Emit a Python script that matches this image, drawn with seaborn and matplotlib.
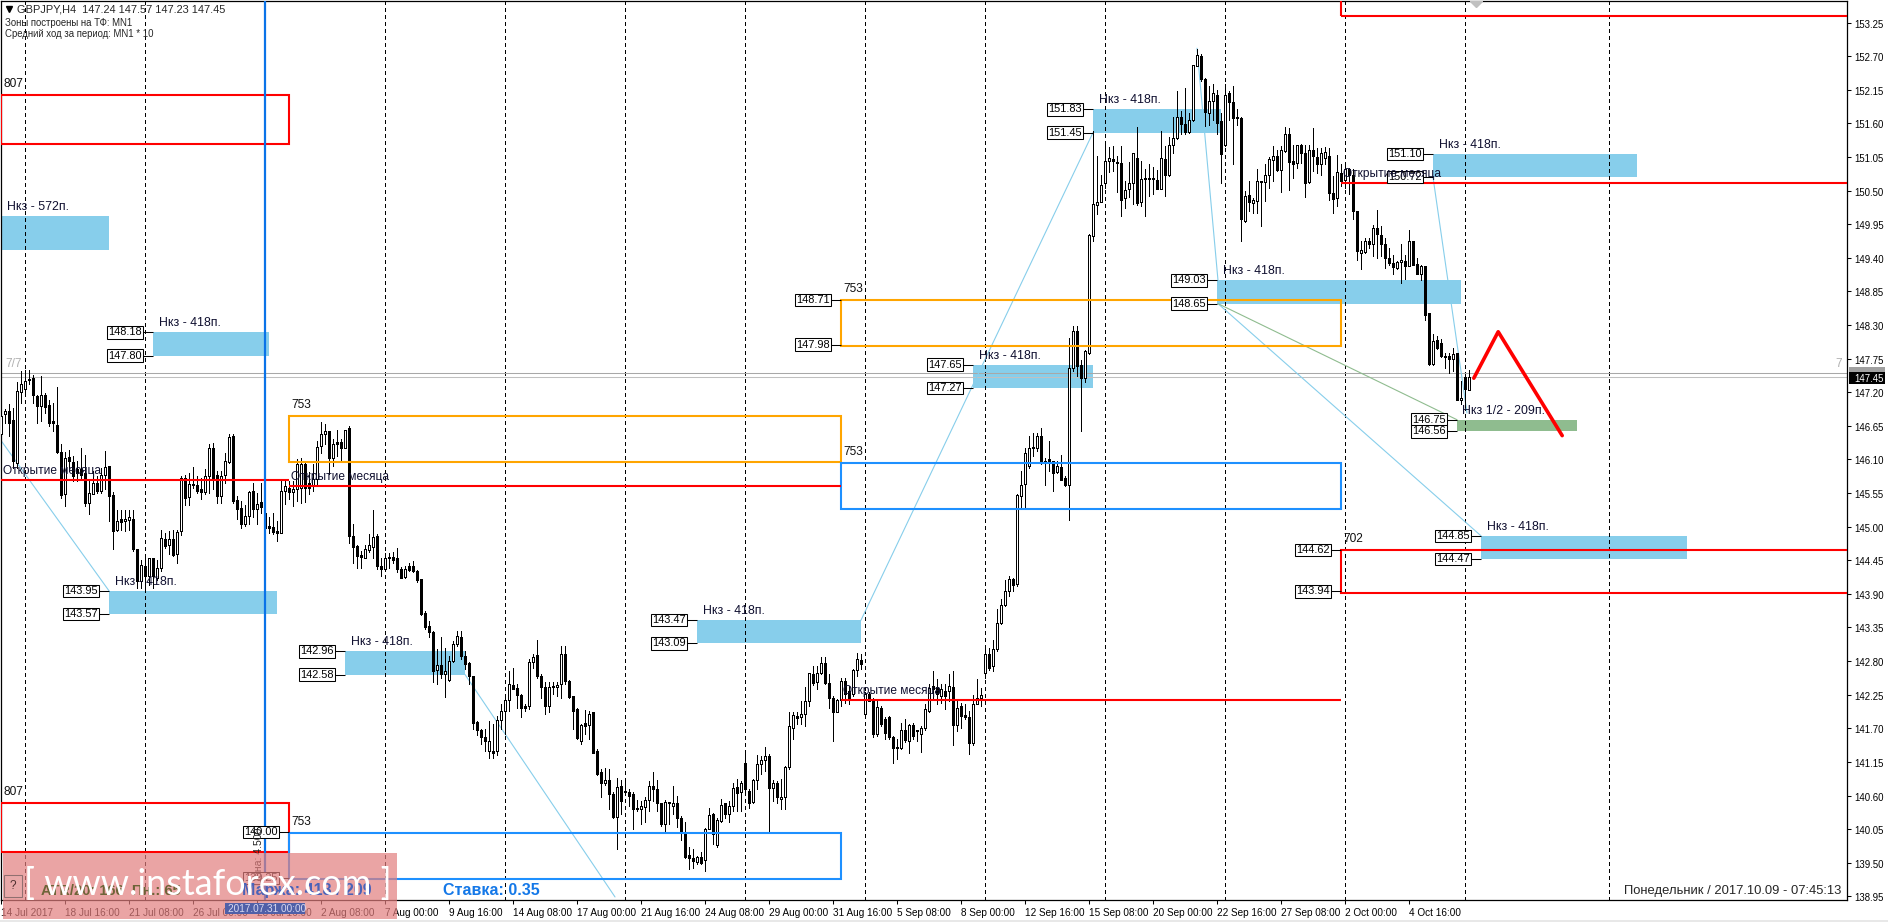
import matplotlib
matplotlib.use("Agg")
import matplotlib.pyplot as plt
import numpy as np
import pandas as pd
import seaborn as sns
from matplotlib.patches import Rectangle
from matplotlib.transforms import ScaledTranslation

# 4h candles, one value per bar
bar_open = [
    146.51, 146.84, 146.89, 146.74, 146.05, 147.21, 147.25, 147.41, 147.43, 147.14,
    146.97, 147.16, 146.99, 146.73, 146.67, 146.23, 145.54, 146.14, 146.06, 145.94,
    145.94, 145.88, 145.38, 145.53, 145.72, 145.58, 145.85, 145.99, 145.52, 144.94,
    145.12, 145.09, 145.11, 145.13, 144.63, 144.11, 144.35, 144.19, 144.48, 144.16,
    144.32, 144.79, 144.70, 144.79, 144.55, 144.93, 145.79, 145.48, 145.68, 145.68,
    145.61, 145.56, 145.83, 146.28, 145.84, 145.51, 145.84, 146.06, 146.48, 145.43,
    145.31, 145.04, 145.17, 145.58, 145.29, 145.40, 145.23, 145.01, 145.00, 144.93,
    144.90, 145.58, 145.64, 145.56, 145.61, 145.64, 146.03, 145.72, 145.68, 145.78,
    146.32, 146.52, 146.57, 146.12, 146.39, 146.39, 146.29, 146.62, 144.85, 144.68,
    144.53, 144.49, 144.62, 144.67, 144.85, 144.36, 144.31, 144.49, 144.50, 144.49,
    144.30, 144.17, 144.36, 144.35, 144.28, 144.14, 143.58, 143.38,
    143.28, 142.66, 142.74, 142.59, 142.49, 142.80, 143.08, 143.20, 142.89, 142.77,
    142.55, 141.81, 141.67, 141.55, 141.33, 141.33, 141.33, 141.83, 141.98, 142.16,
    142.41, 142.36, 142.25, 142.07, 142.07, 142.78, 142.90, 142.56, 142.38, 142.07,
    142.38, 142.38, 142.42, 142.91, 142.48, 142.23, 142.02, 141.50, 141.79, 141.75,
    141.96, 141.33, 140.98, 140.80, 140.86, 140.63, 140.25, 140.76, 140.66, 140.66,
    140.62, 140.40, 140.38, 140.42, 140.53, 140.76, 140.70, 140.47, 140.13, 140.50,
    140.43, 140.48, 140.24, 140.00, 139.62, 139.57, 139.52, 139.60, 139.55, 140.06,
    140.29, 139.79, 140.18, 140.47, 140.30, 140.43, 140.74, 140.65, 141.13, 140.68,
    140.50, 140.85, 141.11, 141.18, 141.25, 140.73, 140.81, 140.54, 140.57, 141.06,
    141.70, 141.90, 141.88, 141.94, 142.15, 142.59, 142.45, 142.60, 142.77, 142.44,
    142.20, 141.97, 142.17, 142.48, 142.31, 142.26, 142.65, 142.81, 141.93, 142.26,
    142.18, 141.60, 142.04, 141.85, 141.88, 141.56, 141.37, 141.38, 141.68, 141.50,
    141.75, 141.66, 141.60, 141.70, 141.99, 142.39, 142.37, 142.23, 142.31, 142.31,
    142.37, 141.75, 142.06, 141.91, 141.89, 141.46, 142.10, 142.20, 142.61, 142.91,
    142.72, 143.00, 143.42, 143.71, 143.95, 144.14, 144.06, 145.51, 145.70, 145.99,
    146.29, 146.28, 146.48, 146.05, 146.10, 146.07, 145.90, 145.98, 145.80, 145.68,
    147.59, 148.20, 147.64, 147.43, 147.85, 149.76, 150.26, 150.32, 150.62, 150.98,
    151.02, 150.97, 150.95, 150.38, 150.52, 150.62, 151.03, 150.31, 150.70, 150.70,
    150.70, 150.68, 150.53, 151.02, 150.75, 151.24, 151.36, 151.70, 151.59, 151.46,
    151.65, 152.54, 152.70, 152.32, 151.77, 151.96, 152.07, 151.64, 151.25, 152.09,
    151.95, 151.70, 151.68, 150.01, 150.43, 150.30, 150.33, 150.64, 150.64, 150.75,
    151.00, 151.07, 150.83, 151.15, 151.43, 150.98, 150.95, 151.25, 151.12, 150.64,
    151.17, 151.05, 150.94, 151.04, 151.06, 150.46, 150.38, 150.79, 150.68, 150.85,
    150.75, 150.16, 149.48, 149.50, 149.67, 149.63, 149.89, 149.78, 149.62, 149.40,
    149.32, 149.24, 149.33, 149.35, 149.27, 149.68, 149.30, 149.14, 149.26, 148.49,
    147.66, 148.05, 148.01, 147.79, 147.79, 147.74, 147.84, 147.08, 147.45, 147.24,
]
bar_high = [
    146.92, 146.92, 147.00, 146.95, 147.36, 147.54, 147.56, 147.56, 147.48, 147.16,
    147.46, 147.19, 147.07, 147.03, 147.28, 146.35, 146.23, 146.25, 146.16, 146.07,
    146.28, 146.18, 145.75, 145.91, 145.83, 145.96, 146.24, 145.99, 145.56, 145.28,
    145.27, 145.28, 145.28, 145.28, 144.64, 144.46, 144.49, 144.49, 144.49, 144.46,
    144.95, 144.90, 144.93, 144.95, 144.95, 145.83, 145.85, 145.88, 145.97, 145.83,
    145.80, 145.94, 146.36, 146.37, 145.91, 145.91, 146.21, 146.51, 146.51, 145.50,
    145.42, 145.36, 145.58, 145.72, 145.55, 145.72, 145.37, 145.15, 145.23, 145.09,
    145.75, 145.78, 145.75, 145.75, 146.10, 146.13, 146.05, 145.89, 146.02, 146.41,
    146.71, 146.68, 146.57, 146.43, 146.59, 146.43, 146.59, 146.65, 145.04, 144.70,
    144.60, 144.70, 144.88, 145.27, 144.88, 144.49, 144.57, 144.57, 144.59, 144.65,
    144.34, 144.36, 144.41, 144.43, 144.29, 144.15, 143.62, 143.46,
    143.29, 143.00, 143.19, 143.02, 142.89, 143.13, 143.29, 143.29, 142.97, 142.78,
    142.56, 141.82, 141.69, 141.69, 141.82, 141.77, 141.90, 142.09, 142.20, 142.64,
    142.69, 142.42, 142.26, 142.09, 142.83, 142.92, 143.14, 142.59, 142.45, 142.45,
    142.45, 142.45, 143.05, 143.05, 142.49, 142.23, 142.03, 141.77, 142.00, 141.99,
    141.97, 141.36, 141.03, 141.05, 141.03, 140.65, 140.89, 140.85, 140.87, 140.70,
    140.65, 140.52, 140.51, 140.57, 140.84, 140.99, 140.85, 140.48, 140.52, 140.50,
    140.76, 140.59, 140.27, 140.16, 139.75, 139.72, 139.61, 139.67, 140.07, 140.40,
    140.32, 140.24, 140.54, 140.48, 140.51, 140.80, 140.87, 140.84, 141.28, 140.70,
    140.87, 141.27, 141.25, 141.39, 141.28, 140.85, 140.84, 140.87, 141.08, 141.96,
    141.97, 141.96, 142.15, 142.38, 142.61, 142.72, 142.72, 142.87, 142.87, 142.59,
    142.23, 142.18, 142.53, 142.53, 142.40, 142.67, 142.94, 142.91, 142.29, 142.29,
    142.20, 142.18, 142.07, 141.88, 141.90, 141.58, 141.52, 141.79, 141.85, 141.77,
    141.78, 141.68, 141.74, 142.09, 142.42, 142.64, 142.50, 142.42, 142.42, 142.59,
    142.64, 142.14, 142.12, 142.09, 141.98, 142.25, 142.50, 142.36, 143.02, 143.02,
    143.15, 143.65, 143.81, 144.13, 144.19, 144.16, 145.53, 145.91, 146.29, 146.48,
    146.53, 146.54, 146.62, 146.13, 146.41, 146.08, 146.07, 146.17, 145.83, 148.09,
    148.29, 148.29, 147.72, 147.89, 149.79, 151.48, 151.07, 150.76, 151.29, 151.21,
    151.23, 151.07, 151.23, 150.66, 150.96, 151.12, 151.54, 150.99, 150.85, 150.93,
    150.88, 150.84, 151.48, 151.23, 151.38, 151.70, 152.13, 151.80, 152.18, 151.77,
    152.56, 152.81, 152.73, 152.35, 152.21, 152.24, 152.15, 151.77, 152.24, 152.13,
    152.21, 151.83, 151.70, 150.49, 150.65, 150.38, 150.85, 150.65, 150.93, 151.05,
    151.23, 151.16, 151.23, 151.54, 151.53, 151.25, 151.25, 151.27, 151.25, 151.25,
    151.52, 151.20, 151.20, 151.21, 151.19, 150.74, 151.08, 150.93, 150.93, 150.87,
    150.85, 150.16, 149.67, 149.73, 149.73, 149.93, 150.19, 149.92, 149.73, 149.56,
    149.45, 149.34, 149.62, 149.45, 149.85, 149.68, 149.40, 149.29, 149.26, 148.49,
    148.15, 148.12, 148.07, 147.85, 147.85, 147.93, 147.85, 147.38, 147.50, 147.57,
]
bar_low = [
    146.48, 146.70, 146.48, 145.96, 145.96, 147.03, 147.16, 147.33, 147.03, 146.70,
    146.73, 146.86, 146.65, 146.56, 146.21, 145.47, 145.34, 145.91, 145.75, 145.75,
    145.80, 145.34, 145.20, 145.53, 145.55, 145.55, 145.61, 145.09, 144.63, 144.93,
    144.94, 144.93, 144.95, 144.60, 144.00, 144.00, 144.00, 144.05, 144.00, 144.13,
    144.27, 144.65, 144.55, 144.52, 144.41, 144.87, 145.36, 145.36, 145.64, 145.55,
    145.45, 145.54, 145.55, 145.61, 145.39, 145.39, 145.72, 146.05, 145.39, 145.12,
    144.97, 145.01, 145.04, 145.15, 145.04, 145.23, 144.88, 144.90, 144.88, 144.77,
    144.90, 145.37, 145.45, 145.34, 145.42, 145.39, 145.40, 145.53, 145.58, 145.69,
    146.21, 146.35, 145.86, 145.99, 146.16, 146.07, 146.29, 144.74, 144.40, 144.33,
    144.32, 144.49, 144.58, 144.49, 144.30, 144.19, 144.30, 144.33, 144.41, 144.25,
    144.16, 144.16, 144.27, 144.25, 144.10, 143.55, 143.32, 143.19,
    142.45, 142.42, 142.53, 142.22, 142.48, 142.78, 143.05, 142.83, 142.67, 142.42,
    141.69, 141.59, 141.44, 141.33, 141.21, 141.22, 141.27, 141.69, 141.60, 141.99,
    142.34, 142.04, 141.88, 141.99, 142.01, 142.69, 142.53, 142.20, 141.93, 141.96,
    142.26, 142.23, 142.20, 142.42, 142.20, 141.69, 141.52, 141.44, 141.60, 141.52,
    141.29, 140.94, 140.57, 140.78, 140.38, 140.24, 139.73, 140.29, 140.65, 140.43,
    140.06, 140.35, 140.14, 140.16, 140.35, 140.51, 140.35, 140.10, 140.02, 140.13,
    140.29, 140.08, 139.88, 139.58, 139.39, 139.42, 139.48, 139.48, 139.36, 140.05,
    139.80, 139.76, 140.16, 140.24, 140.16, 140.35, 140.35, 140.35, 140.65, 140.40,
    140.48, 140.70, 140.95, 141.00, 139.99, 140.51, 140.48, 140.38, 140.38, 141.03,
    141.52, 141.77, 141.77, 141.74, 142.07, 142.41, 142.34, 142.59, 142.42, 142.04,
    141.50, 141.96, 142.07, 142.12, 142.10, 142.23, 142.56, 142.67, 141.90, 142.15,
    141.55, 141.58, 141.74, 141.52, 141.52, 141.14, 141.19, 141.36, 141.47, 141.30,
    141.52, 141.49, 141.32, 141.68, 141.96, 142.20, 142.09, 142.12, 142.01, 142.15,
    141.43, 141.65, 141.71, 141.85, 141.28, 141.43, 142.09, 142.06, 142.53, 142.66,
    142.64, 142.96, 143.40, 143.70, 143.86, 143.94, 144.03, 145.31, 145.31, 145.96,
    146.15, 146.24, 146.02, 145.69, 145.91, 145.58, 145.88, 145.77, 145.66, 145.11,
    147.55, 147.46, 146.56, 147.37, 147.83, 149.68, 150.11, 150.31, 150.55, 150.80,
    150.82, 150.47, 150.09, 150.22, 150.39, 150.28, 150.27, 150.25, 150.08, 150.41,
    150.44, 150.53, 150.52, 150.41, 150.74, 151.12, 151.34, 151.42, 151.42, 151.45,
    151.64, 152.54, 152.29, 151.55, 151.58, 151.66, 151.42, 150.63, 151.23, 151.66,
    150.93, 151.58, 149.68, 149.99, 150.16, 150.14, 150.14, 149.92, 150.33, 150.55,
    150.65, 150.82, 150.48, 151.13, 150.51, 150.71, 150.87, 150.95, 150.40, 150.62,
    150.82, 150.79, 150.76, 150.93, 150.35, 150.14, 150.25, 150.57, 150.55, 150.44,
    150.03, 149.36, 149.22, 149.48, 149.56, 149.43, 149.40, 149.43, 149.24, 149.29,
    149.13, 149.21, 148.98, 149.05, 149.26, 149.29, 149.13, 149.04, 148.39, 147.64,
    147.65, 147.90, 147.77, 147.60, 147.52, 147.55, 147.08, 147.00, 146.96, 147.23,
]
bar_close = [
    146.81, 146.89, 146.70, 146.07, 147.22, 147.33, 147.39, 147.40, 147.15, 146.97,
    147.15, 146.96, 146.70, 146.69, 146.23, 145.52, 146.13, 146.07, 145.83, 145.88,
    145.85, 145.39, 145.55, 145.72, 145.59, 145.85, 145.97, 145.51, 144.93, 145.10,
    145.07, 145.12, 145.16, 144.63, 144.11, 144.38, 144.19, 144.48, 144.20, 144.32,
    144.81, 144.68, 144.79, 144.53, 144.92, 145.79, 145.47, 145.70, 145.70, 145.58,
    145.57, 145.83, 146.28, 145.80, 145.51, 145.83, 146.08, 146.47, 145.42, 145.29,
    145.04, 145.17, 145.57, 145.29, 145.37, 145.33, 144.98, 144.97, 144.91, 144.90,
    145.58, 145.67, 145.56, 145.61, 146.03, 146.03, 145.64, 145.64, 145.78, 146.30,
    146.52, 146.56, 146.12, 146.35, 146.35, 146.28, 146.59, 144.85, 144.66, 144.52,
    144.50, 144.63, 144.70, 144.83, 144.36, 144.30, 144.48, 144.48, 144.46, 144.30,
    144.16, 144.30, 144.29, 144.28, 144.12, 143.57, 143.36, 143.27,
    142.64, 142.73, 142.59, 142.64, 142.80, 143.08, 143.21, 142.89, 142.76, 142.55,
    141.79, 141.67, 141.55, 141.49, 141.49, 141.30, 141.83, 141.98, 142.16, 142.42,
    142.34, 142.25, 142.04, 142.04, 142.78, 142.87, 142.56, 142.38, 142.07, 142.38,
    142.39, 142.41, 142.91, 142.48, 142.21, 141.99, 141.54, 141.75, 141.74, 141.93,
    141.30, 140.95, 140.81, 140.86, 140.62, 140.25, 140.74, 140.51, 140.65, 140.59,
    140.38, 140.38, 140.43, 140.53, 140.76, 140.70, 140.47, 140.13, 140.50, 140.47,
    140.48, 140.23, 140.00, 139.60, 139.57, 139.53, 139.60, 139.50, 140.06, 140.28,
    139.97, 140.20, 140.44, 140.29, 140.43, 140.72, 140.64, 140.81, 140.70, 140.48,
    140.85, 141.11, 141.18, 141.25, 140.73, 140.81, 140.57, 140.57, 141.06, 141.73,
    141.91, 141.87, 141.93, 142.15, 142.60, 142.44, 142.60, 142.77, 142.44, 142.19,
    141.97, 142.16, 142.48, 142.26, 142.18, 142.65, 142.83, 142.76, 142.26, 142.15,
    141.60, 142.05, 141.77, 141.63, 141.56, 141.37, 141.39, 141.68, 141.51, 141.75,
    141.58, 141.65, 141.70, 142.01, 142.36, 142.34, 142.26, 142.34, 142.23, 142.39,
    141.76, 142.04, 141.90, 141.89, 141.46, 142.10, 142.20, 142.25, 142.91, 142.69,
    142.99, 143.42, 143.71, 143.95, 144.14, 144.05, 145.52, 145.69, 146.21, 146.28,
    146.30, 146.49, 146.05, 146.08, 146.05, 145.88, 146.00, 145.77, 145.68, 147.59,
    148.20, 147.63, 147.44, 147.87, 149.77, 150.28, 150.31, 150.59, 150.99, 151.03,
    150.98, 150.95, 150.35, 150.51, 150.62, 151.12, 150.29, 150.69, 150.69, 150.69,
    150.69, 150.53, 151.03, 150.75, 151.24, 151.36, 151.70, 151.59, 151.46, 151.65,
    152.56, 152.72, 152.32, 151.78, 151.96, 152.09, 151.61, 151.10, 152.07, 151.95,
    151.69, 151.69, 150.03, 150.41, 150.32, 150.34, 150.65, 150.65, 150.76, 151.01,
    151.07, 150.83, 151.16, 151.43, 150.97, 150.94, 151.25, 151.12, 150.63, 151.17,
    151.06, 150.94, 151.12, 151.13, 150.46, 150.37, 150.81, 150.65, 150.85, 150.75,
    150.16, 149.51, 149.52, 149.67, 149.62, 149.89, 149.79, 149.62, 149.40, 149.32,
    149.25, 149.33, 149.36, 149.27, 149.68, 149.29, 149.14, 149.26, 148.47, 147.66,
    148.04, 147.93, 147.79, 147.77, 147.74, 147.82, 147.08, 147.11, 147.25, 147.45,
]

price_ticks = [153.25, 152.70, 152.15, 151.60, 151.05, 150.50, 149.95, 149.40, 148.85,
               148.30, 147.75, 147.20, 146.65, 146.10, 145.55, 145.00, 144.45, 143.90,
               143.35, 142.80, 142.25, 141.70, 141.15, 140.60, 140.05, 139.50, 138.95]
time_ticks = ["14 Jul 2017", "18 Jul 16:00", "21 Jul 08:00", "26 Jul 00:00", "28 Jul 16:00",
              "2 Aug 08:00", "7 Aug 00:00", "9 Aug 16:00", "14 Aug 08:00", "17 Aug 00:00",
              "21 Aug 16:00", "24 Aug 08:00", "29 Aug 00:00", "31 Aug 16:00", "5 Sep 08:00",
              "8 Sep 00:00", "12 Sep 16:00", "15 Sep 08:00", "20 Sep 00:00", "22 Sep 16:00",
              "27 Sep 08:00", "2 Oct 00:00", "4 Oct 16:00"]
time_tick_bars = [16 * k for k in range(len(time_ticks))]
period_seps = [6, 36, 96, 126, 156, 186, 216, 246, 276, 306, 336, 366, 402]
selected_bar = 66

# filled zones: bar start, bar end, top, bottom, caption
zone_start = [0, 38, 27, 86, 174, 243, 273, 304, 358, 370]
zone_end = [27, 67, 69, 116, 215, 273, 305, 365, 409, 421.5]
zone_top = [150.09, 148.18, 143.95, 142.96, 143.47, 147.65, 151.83, 149.03, 151.10, 144.85]
zone_bottom = [149.52, 147.80, 143.57, 142.58, 143.09, 147.27, 151.45, 148.65, 150.72, 144.47]
zone_caption = ["Нкз - 572п."] + ["Нкз - 418п."] * 9
half_zone = (364, 394, 146.75, 146.56, "Нкз 1/2 - 209п.")

# outlined boxes: bar start, bar end, top, bottom, colour, caption
box_start = [0, 0, 72, 72, 210, 210, 335, 335]
box_end = [72, 72, 210, 210, 335, 335, 470, 470]
box_top = [152.06, 140.48, 146.81, 139.99, 148.71, 146.04, 144.62, 154.50]
box_bottom = [151.26, 139.68, 146.06, 139.24, 147.96, 145.29, 143.92, 153.35]
box_color = ["#ff0000", "#ff0000", "#ffa500", "#1e90ff", "#ffa500", "#1e90ff", "#ff0000", "#ff0000"]
box_caption = ["807", "807", "753", "753", "753", "753", "702", ""]

# small price tags on the boxes
box_tag_bar = [210, 210, 335, 335, 72, 72]
box_tag_price = [148.71, 147.98, 144.62, 143.94, 140.00, 139.25]

# month open lines
month_start = [0, 72, 210, 335]
month_end = [72, 210, 335, 470]
month_price = [145.76, 145.67, 142.16, 150.63]

# thin connectors between zones
link_x0 = [0, 38, 86, 116, 174, 215, 299, 358, 304.25]
link_y0 = [146.41, 147.80, 146.76, 142.58, 143.09, 143.47, 152.83, 150.72, 148.65]
link_x1 = [27, 38, 86, 153.5, 174, 273, 304.25, 366.5, 370]
link_y1 = [143.95, 143.99, 142.96, 138.94, 139.26, 151.45, 149.03, 146.86, 144.85]
green_link_x = [304.25, 364]
green_link_y = [148.65, 146.75]

forecast_x = [368.2, 374.3, 390.3]
forecast_y = [147.43, 148.19, 146.49]

bid_price = 147.45
ask_price = 147.51


def px_x(px):
    return px / 1888


def px_y(px):
    return 1 - px / 922


candles = pd.DataFrame({"open": bar_open, "high": bar_high, "low": bar_low, "close": bar_close})
candles["bar"] = np.arange(len(candles))
candles["up"] = candles["close"] >= candles["open"]

sns.set_theme(style="white")
plt.rcParams["font.family"] = ["Liberation Sans", "DejaVu Sans"]

fig = plt.figure(figsize=(18.88, 9.22), dpi=100, facecolor="white")
ax = fig.add_axes([px_x(1), px_y(900), px_x(1846), 899 / 922])
ax.set_facecolor("white")
ax.set_xlim(0, 461.5)
ax.set_ylim(138.89, 153.603)

# background layer
for x0, x1, top, bottom in zip(zone_start, zone_end, zone_top, zone_bottom):
    ax.add_patch(Rectangle((x0, bottom), x1 - x0, top - bottom, fc="#87ceeb", ec="none", zorder=1))
ax.add_patch(Rectangle((half_zone[0], half_zone[3]), half_zone[1] - half_zone[0],
                       half_zone[2] - half_zone[3], fc="#8fbc8f", ec="none", zorder=1))
ax.vlines(period_seps, 138.89, 153.603, colors="black", lw=0.75, linestyles=(0, (3, 3)),
          zorder=2, antialiased=False)
ax.axhline(ask_price, color="#a8a8a8", lw=0.75, zorder=2)
ax.axhline(bid_price, color="#c0c0c0", lw=0.75, zorder=2)

for x0, y0, x1, y1 in zip(link_x0, link_y0, link_x1, link_y1):
    sns.lineplot(x=[x0, x1], y=[y0, y1], color="#87ceeb", lw=0.8, sort=False, errorbar=None,
                 ax=ax, zorder=2.5, legend=False)
sns.lineplot(x=green_link_x, y=green_link_y, color="#8fbc8f", lw=0.8, sort=False, errorbar=None,
             ax=ax, zorder=2.5, legend=False)

# candles
ax.vlines(candles["bar"], candles["low"], candles["high"], colors="black", lw=0.72, zorder=3,
          antialiased=False)
body_low = candles[["open", "close"]].min(axis=1)
body_size = (candles["close"] - candles["open"]).abs().clip(lower=0.02)
ax.bar(candles["bar"], body_size, bottom=body_low, width=0.5, lw=0.72, edgecolor="black",
       color=["white" if up else "black" for up in candles["up"]], zorder=4, antialiased=False)

# boxes and levels
for x0, x1, top, bottom, color in zip(box_start, box_end, box_top, box_bottom, box_color):
    ax.add_patch(Rectangle((x0, bottom), x1 - x0, top - bottom, fc="none", ec=color, lw=1.5, zorder=5))
ax.hlines(month_price, month_start, month_end, colors="#ff0000", lw=1.5, zorder=5)
ax.axvline(selected_bar, color="#0a73e8", lw=1.6, zorder=5)
sns.lineplot(x=forecast_x, y=forecast_y, color="#ff0000", lw=2.6, sort=False, errorbar=None,
             ax=ax, zorder=5.5, legend=False)
ax.plot([368.7], [153.603], marker="D", ms=6, color="#c0c0c0", zorder=5)

# text on the chart
label_size = 8.6
tag_style = dict(fontsize=7.9, ha="right", va="center", color="black", textcoords="offset pixels",
                 bbox=dict(boxstyle="square,pad=0.12", fc="white", ec="black", lw=0.75), zorder=7)


def price_tag(bar, price):
    ax.hlines(price, bar - 2.5, bar, colors="black", lw=0.75, zorder=6)
    ax.annotate(f"{price:.2f}", (bar, price), xytext=(-11, 0), **tag_style)


for x0, top, bottom, caption in zip(zone_start, zone_top, zone_bottom, zone_caption):
    ax.annotate(caption, (x0, top), xytext=(6, 9), textcoords="offset pixels", fontsize=8.9,
                va="center", color="#101030", zorder=7)
    if x0 > 0:
        price_tag(x0, top)
        price_tag(x0, bottom)
ax.annotate(half_zone[4], (half_zone[0], half_zone[2]), xytext=(5, 9), textcoords="offset pixels",
            fontsize=8.9, va="center", color="#101030", zorder=7)
price_tag(half_zone[0], half_zone[2])
price_tag(half_zone[0], half_zone[3])

for bar, price in zip(box_tag_bar, box_tag_price):
    price_tag(bar, price)
for x0, top, caption in zip(box_start, box_top, box_caption):
    ax.annotate(caption, (x0, top), xytext=(2, 11), textcoords="offset pixels", fontsize=label_size,
                va="center", color="#101010", zorder=7, annotation_clip=False)
for x0, price in zip(month_start, month_price):
    ax.annotate("Открытие месяца", (x0, price), xytext=(2, 9), textcoords="offset pixels",
                fontsize=label_size, va="center", color="#101030", zorder=7)

ax.text(1.2, 147.67, "7/7", fontsize=label_size, color="#b0b0b0", va="center", zorder=6)
ax.text(458.5, 147.67, "7", fontsize=label_size, color="#b0b0b0", va="center", zorder=6)
ax.text(64.5, 139.6, "Цена: 4.500", fontsize=7.6, rotation=90, va="center", ha="center",
        color="#202020", zorder=7)

# header and clock
ax.plot([2], [153.47], marker="v", ms=4.5, color="black", zorder=7)
ax.text(4, 153.47, "GBPJPY,H4  147.24 147.57 147.23 147.45", fontsize=7.9, va="center", zorder=7)
ax.text(1, 153.24, "Зоны построены на ТФ: MN1", fontsize=6.9, va="center", zorder=7)
ax.text(1, 153.06, "Средний ход за период: MN1 * 10", fontsize=6.9, va="center", zorder=7)
ax.text(460, 139.04, "Понедельник / 2017.10.09 - 07:45:13", fontsize=9.37, ha="right", va="center", zorder=7)

# axes
ax.yaxis.tick_right()
ax.set_yticks(price_ticks)
ax.set_yticklabels([f"{p:.2f}" for p in price_ticks], fontsize=6.9, color="black")
ax.set_xticks(time_tick_bars)
ax.set_xticklabels(time_ticks, fontsize=7.2, ha="left", color="black")
ax.tick_params(axis="both", length=3, width=0.75, color="black", pad=2.5, direction="out",
               bottom=True, right=True, left=False, top=False)
for label in ax.get_yticklabels():
    label.set_transform(label.get_transform() + ScaledTranslation(0, -1 / 100, fig.dpi_scale_trans))
for spine in ax.spines.values():
    spine.set_color("black")
    spine.set_linewidth(0.9)
    spine.set_visible(True)

# price flags over the right axis
fig.add_artist(Rectangle((px_x(1849), px_y(373)), 36 / 1888, 6 / 922, fc="#a0a0a0", ec="none",
                         transform=fig.transFigure, zorder=3))
fig.add_artist(Rectangle((px_x(1849), px_y(384)), 36 / 1888, 12 / 922, fc="black", ec="none",
                         transform=fig.transFigure, zorder=3))
fig.text(px_x(1854), px_y(378.5), "147.45", color="white", fontsize=6.9, va="center", zorder=4)

# bottom left panel, the watermark goes over the chart but under these labels
fig.add_artist(Rectangle((px_x(3), px_y(919)), 394 / 1888, 66 / 922, fc="#e27e7e", ec="none", alpha=0.7,
                         transform=fig.transFigure, zorder=5))
fig.add_artist(Rectangle((px_x(225), px_y(914)), 80 / 1888, 11 / 922, fc="#5060a8", ec="none",
                         transform=fig.transFigure, zorder=5.2))
fig.text(px_x(228), px_y(908.5), "2017.07.31 00:00", color="#d8d8f0", fontsize=7.2, va="center", zorder=5.3)
fig.add_artist(Rectangle((px_x(4), px_y(897)), 18 / 1888, 22 / 922, fc="#e8a8a8", ec="#907070", lw=0.75,
                         transform=fig.transFigure, zorder=5.2))
fig.text(px_x(13), px_y(886), "?", color="#503030", fontsize=8.5, ha="center", va="center", zorder=5.3)
fig.text(px_x(41), px_y(891), "ATR/20: 166  Пн.: 65", color="#6e6438", fontsize=10.5, weight="bold",
         va="center", zorder=5.3)
fig.text(px_x(242), px_y(890), "Маржа: 418 / 209", color="#4a62b8", fontsize=11.5, weight="bold",
         va="center", zorder=5.3)
fig.text(px_x(443), px_y(890), "Ставка: 0.35", color="#1478e8", fontsize=11.5, weight="bold",
         va="center", zorder=5.3)
fig.text(px_x(24), px_y(884), "[ www.instaforex.com ]", color="white", fontsize=25.9,
         family="Lato", va="center", zorder=6)
fig.add_artist(Rectangle((0, 0), 1, 2 / 922, fc="#e8e8e8", ec="none", transform=fig.transFigure, zorder=2))

fig.savefig("out.png", dpi=100, facecolor="white")
